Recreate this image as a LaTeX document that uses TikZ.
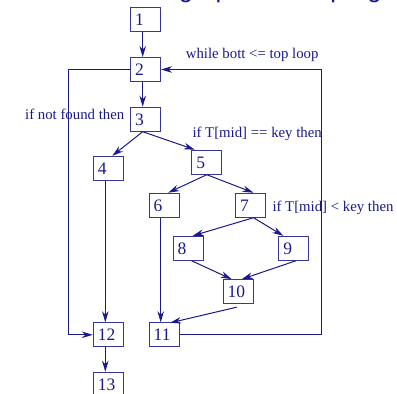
\documentclass[tikz,border=0pt]{standalone}
\usepackage{fontspec}
\setmainfont{Liberation Serif}
\newfontfamily\titlefont{Liberation Sans}
\usetikzlibrary{arrows.meta,calc}
\definecolor{ink}{RGB}{25,25,140}
\definecolor{boxcol}{RGB}{55,55,155}
\definecolor{titlecol}{RGB}{20,20,150}
\newcommand{\nb}[1]{\makebox[30pt][l]{\hspace{4.5pt}#1}}
\tikzset{
  blk/.style={draw=boxcol, line width=1pt, minimum width=30pt, minimum height=24pt,
    inner sep=0pt, text height=11.8pt, text depth=0pt, text=ink,
    font=\fontsize{17.5}{18}\selectfont},
  conn/.style={draw=ink, line width=1pt, -{Stealth[length=11pt,width=6.5pt,inset=3.5pt]}},
  lbl/.style={text=ink, inner sep=0pt, font=\fontsize{14.8}{16}\selectfont},
}
\begin{document}
\begin{tikzpicture}[x=1pt,y=-1pt]
\useasboundingbox (0,0) rectangle (397,394);
% cut-off title
\node[anchor=base west, inner sep=0pt, text=titlecol, font=\titlefont\fontsize{25.5}{27}\selectfont]
  (title) at (178.6,-2.7) {\llap{Flow }graph for the program};
% blocks
\node[blk] (n1) at (145.5,19.8) {\nb{1}};
\node[blk] (n2) at (145.5,69.5) {\nb{2}};
\node[blk] (n3) at (145.5,119.2) {\nb{3}};
\node[blk] (n4) at (108.3,168.3) {\nb{4}};
\node[blk] (n5) at (206.8,162.2) {\nb{5}};
\node[blk] (n6) at (164.2,205.2) {\nb{6}};
\node[blk] (n7) at (250.5,205.2) {\nb{7}};
\node[blk] (n8) at (188.2,248.3) {\nb{8}};
\node[blk] (n9) at (293.8,248.3) {\nb{9}};
\node[blk] (n10) at (238,291.7) {\nb{10}};
\node[blk] (n11) at (164.2,334.8) {\nb{11}};
\node[blk] (n12) at (108.3,334.8) {\nb{12}};
\node[blk] (n13) at (108.3,384.2) {\nb{13}};
% labels
\node[lbl, anchor=base west] (l1) at (185.7,58.3) {while bott <= top loop};
\node[lbl, anchor=base west] (l2) at (25,119) {if not found then};
\node[lbl, anchor=base west] (l3) at (192.3,137.5) {if T[mid] == key then};
\node[lbl, anchor=base west] (l4) at (272.3,211.8) {if T[mid] < key then};
% connectors
\draw[conn] ($(n1.south)+(-2.8,0)$) -- ($(n2.north)+(-2.8,0)$);
\draw[conn] ($(n2.south)+(-2.8,0)$) -- ($(n3.north)+(-2.8,0)$);
\draw[conn] ($(n3.south)+(-2.8,0)$) -- ($(n4.north)+(4,0)$);
\draw[conn] ($(n3.south)+(-2.8,0)$) -- ($(n5.north)+(-12,0)$);
\draw[conn] (n5.south) -- ($(n6.north)+(4,0)$);
\draw[conn] (n5.south) -- ($(n7.north)+(3,0)$);
\draw[conn] ($(n7.south)+(3,0)$) -- ($(n8.north)+(4.5,0)$);
\draw[conn] ($(n7.south)+(3,0)$) -- ($(n9.north)+(-10.5,0)$);
\draw[conn] ($(n8.south)+(3.5,0)$) -- ($(n10.north)+(-6.3,0)$);
\draw[conn] ($(n9.south)+(2,0)$) -- ($(n10.north)+(3.7,0)$);
\draw[conn] ($(n10.south)+(-1.3,3)$) -- ($(n11.north)+(6,0.5)$);
\draw[conn] ($(n4.south)+(-3,0)$) -- ($(n12.north)+(-3,0)$);
\draw[conn] ($(n6.south)+(-3.5,0)$) -- ($(n11.north)+(-3.5,0)$);
\draw[conn] ($(n12.south)+(-3,0)$) -- ($(n13.north)+(-3,0)$);
\draw[conn] (n2.west) -- ++(-62,0) |- (n12.west);
\draw[conn] (n11.east) -- ++(141.5,0) |- (n2.east);
\end{tikzpicture}
\end{document}
